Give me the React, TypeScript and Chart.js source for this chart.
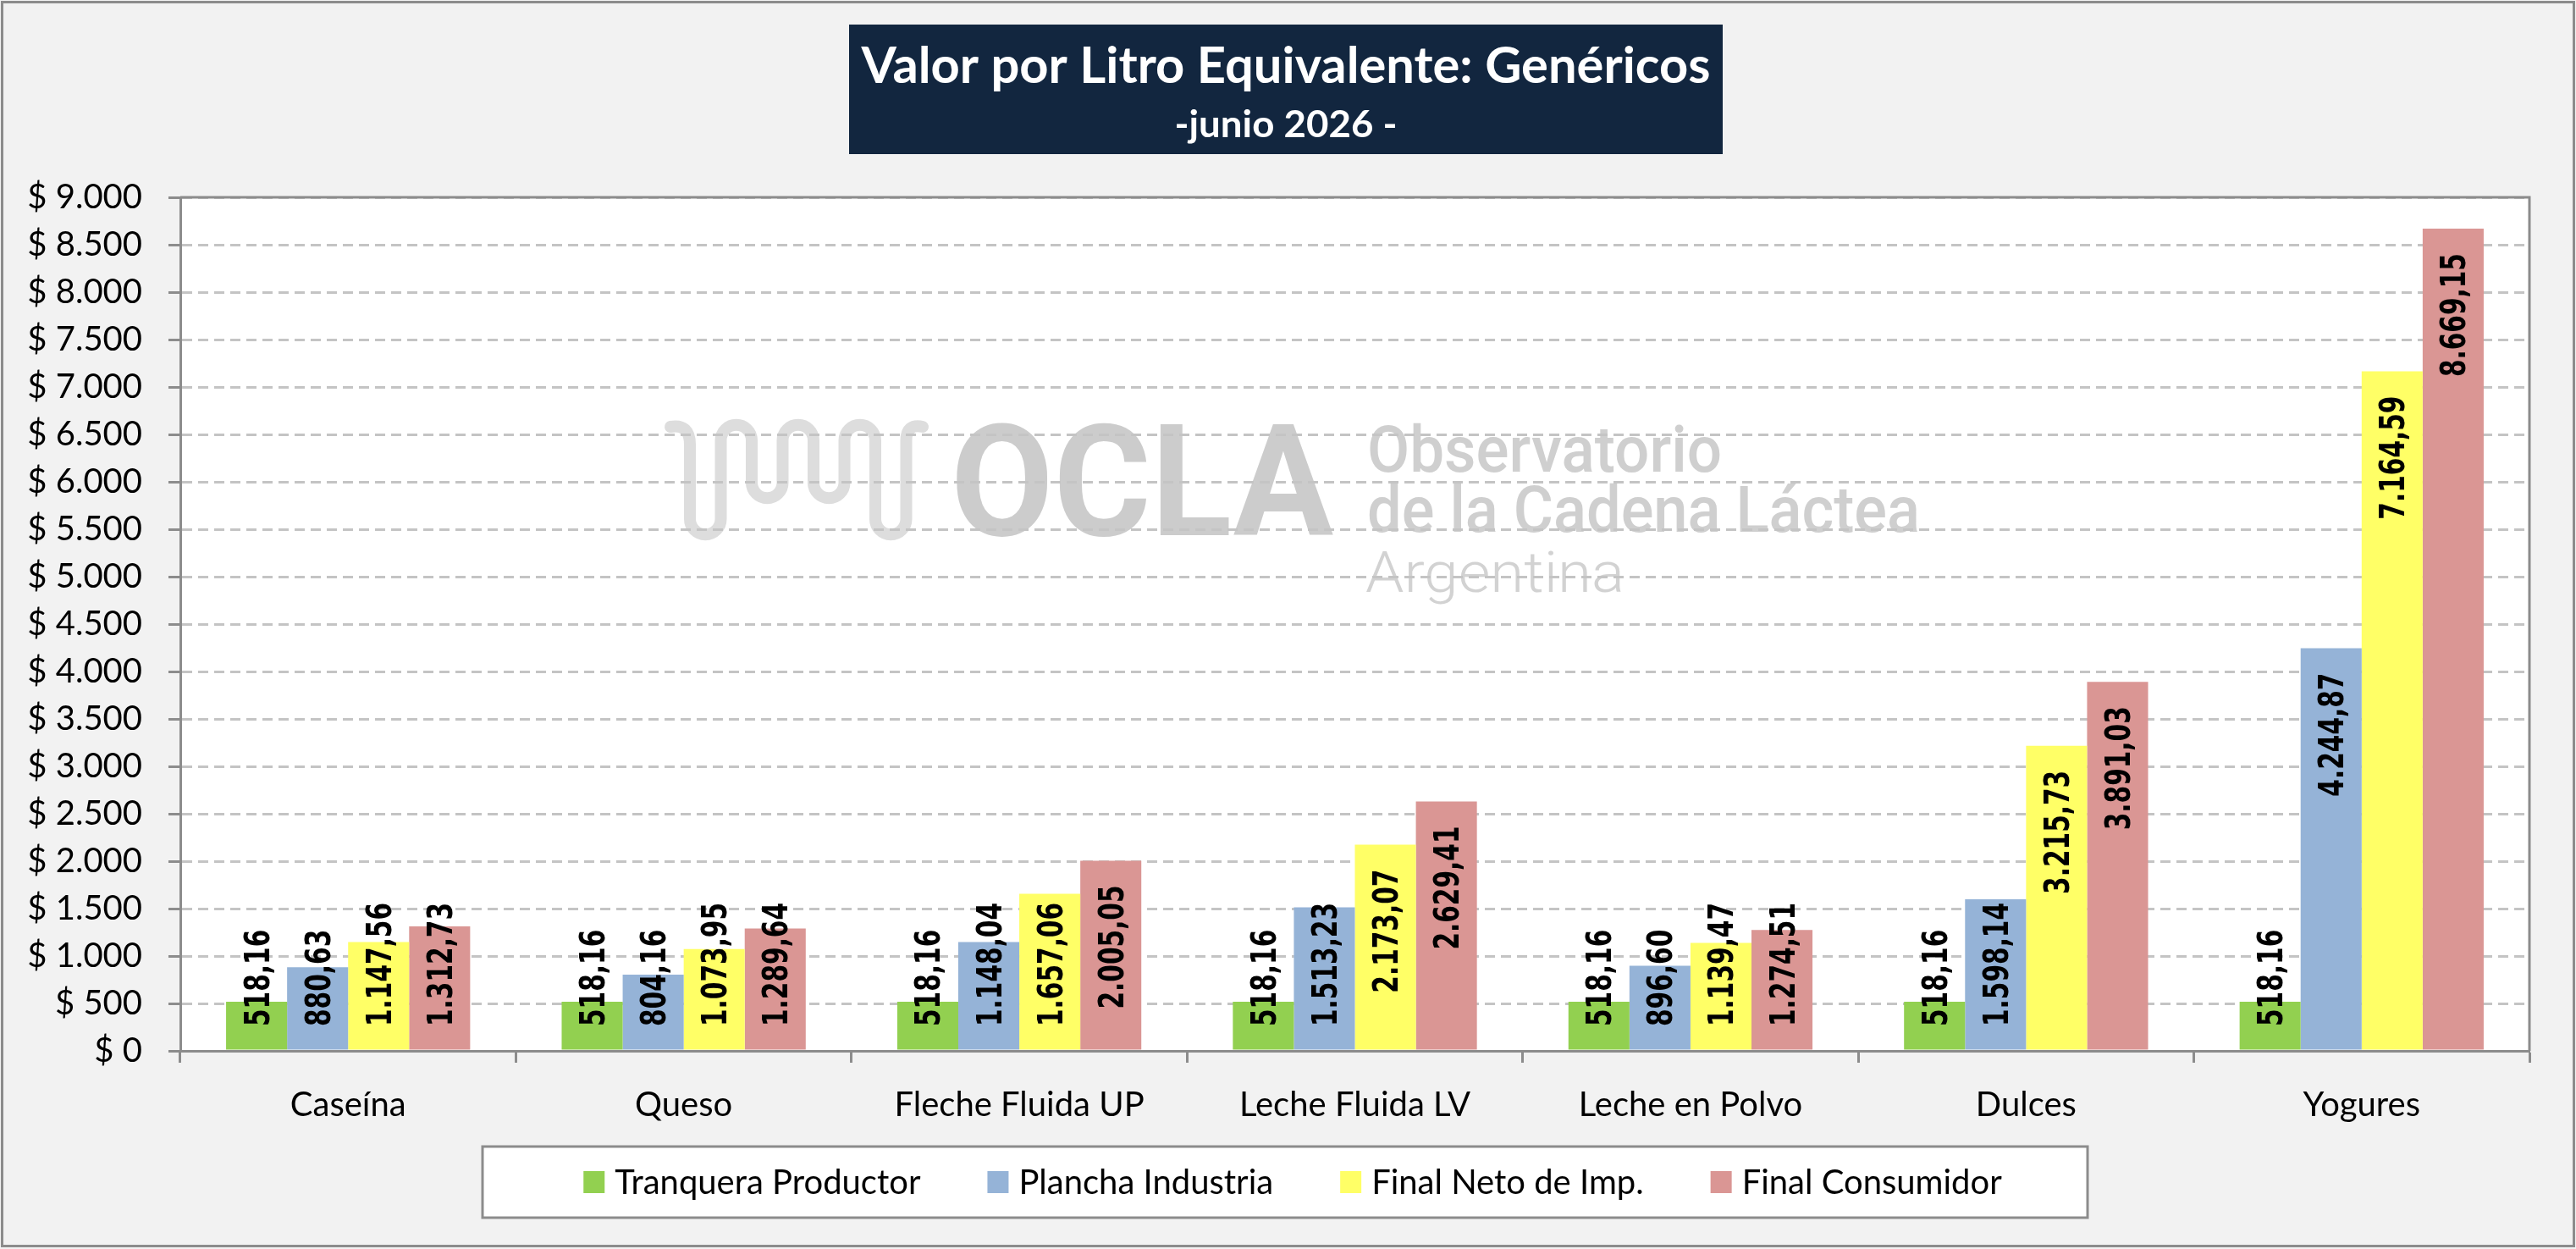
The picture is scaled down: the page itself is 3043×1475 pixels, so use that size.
import { useEffect, useRef } from "react";
import { Chart, registerables } from "chart.js";

Chart.register(...registerables);

const CATEGORIES = [
  "Caseína",
  "Queso",
  "Fleche Fluida UP",
  "Leche Fluida LV",
  "Leche en Polvo",
  "Dulces",
  "Yogures",
];
const SERIES_NAMES = ["Tranquera Productor", "Plancha Industria", "Final Neto de Imp.", "Final Consumidor"];
const TRANQUERA = [518.16, 518.16, 518.16, 518.16, 518.16, 518.16, 518.16];
const PLANCHA = [880.63, 804.16, 1148.04, 1513.23, 896.6, 1598.14, 4244.87];
const NETO = [1147.56, 1073.95, 1657.06, 2173.07, 1139.47, 3215.73, 7164.59];
const CONSUMIDOR = [1312.73, 1289.64, 2005.05, 2629.41, 1274.51, 3891.03, 8669.15];
const SERIES_COLORS = ["#92d050", "#95b3d7", "#ffff66", "#da9694"];

const Y_MIN = 0;
const Y_MAX = 9000;
const Y_STEP = 500;

const TITLE = "Valor por Litro Equivalente: Genéricos";
const SUBTITLE = "-junio 2026 -";

const W = 3043;
const H = 1475;
const AXIS = "#8c8c8c";
const GRID = "#c4c4c4";
const FONT = "Lato";

// 1234.5 -> "1.234,50"
function fmt(v: number, decimals: number) {
  const [int, dec] = v.toFixed(decimals).split(".");
  const dotted = int.replace(/\B(?=(\d{3})+(?!\d))/g, ".");
  return dec ? `${dotted},${dec}` : dotted;
}

function fitText(
  ctx: CanvasRenderingContext2D,
  text: string,
  x: number,
  y: number,
  font: string,
  width: number,
  align: "left" | "center",
  color: string
) {
  ctx.save();
  ctx.font = font;
  const w = ctx.measureText(text).width;
  ctx.translate(x, y);
  ctx.scale(width / w, 1);
  ctx.textAlign = align;
  ctx.textBaseline = "alphabetic";
  ctx.fillStyle = color;
  ctx.fillText(text, 0, 0);
  ctx.restore();
}

function drawWatermark(ctx: CanvasRenderingContext2D) {
  ctx.save();
  ctx.strokeStyle = "#dddddd";
  ctx.lineWidth = 14;
  ctx.lineCap = "round";
  const cols = [815, 851.5, 888, 924.5, 961, 997.5, 1034, 1070.5];
  const r = 18.25;
  const top = 520;
  const longBottom = 613;
  const shortBottom = 570;
  ctx.beginPath();
  ctx.moveTo(792, 504);
  ctx.quadraticCurveTo(815, 500, 815, 525);
  const bottoms = [longBottom, shortBottom, shortBottom, longBottom];
  for (let k = 0; k < 4; k++) {
    const a = cols[k * 2];
    const b = cols[k * 2 + 1];
    ctx.lineTo(a, bottoms[k]);
    ctx.arc((a + b) / 2, bottoms[k], r, Math.PI, 0, true);
    ctx.lineTo(b, top);
    if (k < 3) {
      const c = cols[k * 2 + 2];
      ctx.arc((b + c) / 2, top, r, Math.PI, 0, false);
    }
  }
  ctx.quadraticCurveTo(1070.5, 500, 1090, 504);
  ctx.stroke();
  ctx.restore();

  fitText(ctx, "OCLA", 1123, 632, `bold 184px Roboto`, 452, "left", "#cccccc");
  fitText(ctx, "Observatorio", 1615, 557, `500 76px Roboto`, 419, "left", "#cfcfcf");
  fitText(ctx, "de la Cadena Láctea", 1615, 628, `500 76px Roboto`, 653, "left", "#cfcfcf");
  fitText(ctx, "Argentina", 1613, 699, `300 67px Roboto`, 306, "left", "#d2d2d2");
}

const backgroundPlugin = {
  id: "background",
  beforeDraw(chart: Chart) {
    const { ctx, chartArea } = chart;
    ctx.save();
    ctx.fillStyle = "#f2f2f2";
    ctx.fillRect(0, 0, W, H);
    ctx.strokeStyle = AXIS;
    ctx.lineWidth = 3;
    ctx.strokeRect(2.5, 2.5, W - 5, H - 6);
    ctx.fillStyle = "#ffffff";
    ctx.fillRect(chartArea.left, chartArea.top, chartArea.right - chartArea.left, chartArea.bottom - chartArea.top);
    drawWatermark(ctx);

    // title box
    ctx.fillStyle = "#12263f";
    ctx.fillRect(1003, 29, 1032, 153);
    ctx.restore();
    fitText(ctx, TITLE, 1519, 98, `bold 60px ${FONT}`, 1003, "center", "#ffffff");
    fitText(ctx, SUBTITLE, 1519, 162, `bold 44px ${FONT}`, 263, "center", "#ffffff");
  },
};

const LABEL_SQUEEZE = 0.74;
const LABEL_PAD = 29;

const overlayPlugin = {
  id: "overlay",
  afterDraw(chart: Chart) {
    const { ctx, chartArea } = chart;
    ctx.save();
    // plot frame top and right
    ctx.strokeStyle = AXIS;
    ctx.lineWidth = 3;
    ctx.beginPath();
    ctx.moveTo(chartArea.left, chartArea.top);
    ctx.lineTo(chartArea.right, chartArea.top);
    ctx.lineTo(chartArea.right, chartArea.bottom);
    ctx.stroke();

    // value labels, rotated: inside end, but never below the base
    ctx.font = `bold 40px "DejaVu Sans"`;
    ctx.fillStyle = "#000000";
    ctx.textAlign = "left";
    ctx.textBaseline = "alphabetic";
    const base = chart.scales.y.getPixelForValue(0);
    chart.data.datasets.forEach((ds, di) => {
      const meta = chart.getDatasetMeta(di);
      meta.data.forEach((bar: any, i) => {
        const text = fmt(ds.data[i] as number, 2);
        const len = ctx.measureText(text).width * LABEL_SQUEEZE;
        const start = Math.min(bar.y + LABEL_PAD + len, base - LABEL_PAD);
        ctx.save();
        ctx.translate(bar.x, start);
        ctx.rotate(-Math.PI / 2);
        ctx.scale(LABEL_SQUEEZE, 1);
        ctx.fillText(text, 0, 14.5);
        ctx.restore();
      });
    });

    // legend
    const boxX = 570;
    const boxY = 1354;
    ctx.fillStyle = "#ffffff";
    ctx.fillRect(boxX, boxY, 1896, 84);
    ctx.strokeStyle = AXIS;
    ctx.lineWidth = 3;
    ctx.strokeRect(boxX, boxY, 1896, 84);
    ctx.font = `40px ${FONT}`;
    const sw = 25;
    const gapText = 12;
    const gapItem = 79;
    const widths = chart.data.datasets.map((ds) => ctx.measureText(ds.label as string).width);
    const total = widths.reduce((a, w) => a + sw + gapText + w, 0) + gapItem * (widths.length - 1);
    let x = 1527 - total / 2;
    ctx.textBaseline = "middle";
    chart.data.datasets.forEach((ds, di) => {
      ctx.fillStyle = ds.backgroundColor as string;
      ctx.fillRect(x, 1383, sw, 26);
      ctx.fillStyle = "#000000";
      ctx.fillText(ds.label as string, x + sw + gapText, 1397);
      x += sw + gapText + widths[di] + gapItem;
    });
    ctx.restore();
  },
};

export default function App() {
  const canvasRef = useRef<HTMLCanvasElement>(null);

  useEffect(() => {
    if (!canvasRef.current) return;
    const series = [TRANQUERA, PLANCHA, NETO, CONSUMIDOR];
    const chart = new Chart(canvasRef.current, {
      type: "bar",
      data: {
        labels: CATEGORIES,
        datasets: series.map((values, i) => ({
          label: SERIES_NAMES[i],
          data: values,
          backgroundColor: SERIES_COLORS[i],
          borderWidth: 0,
          categoryPercentage: 4 / 5.5,
          barPercentage: 1,
        })),
      },
      options: {
        responsive: false,
        animation: false,
        devicePixelRatio: 1,
        layout: { padding: { top: 233, right: 55, left: 0, bottom: 0 } },
        plugins: {
          legend: { display: false },
          title: { display: false },
          tooltip: { enabled: false },
        },
        scales: {
          x: {
            z: 1,
            grid: {
              display: true,
              drawOnChartArea: false,
              drawTicks: true,
              tickLength: 14,
              tickColor: AXIS,
              tickWidth: 3,
              offset: true,
            },
            border: { color: AXIS, width: 3 },
            ticks: {
              font: { family: FONT, size: 40 },
              color: "#000000",
              padding: 26,
              maxRotation: 0,
              autoSkip: false,
            },
            afterFit: (s: any) => {
              s.height = H - 1241;
            },
          },
          y: {
            min: Y_MIN,
            max: Y_MAX,
            ticks: {
              stepSize: Y_STEP,
              font: { family: FONT, size: 40 },
              color: "#000000",
              padding: 31,
              callback: (v: any) => "$ " + fmt(Number(v), 0),
            },
            grid: {
              color: GRID,
              lineWidth: 3,
              tickLength: 14,
              tickColor: AXIS,
              tickWidth: 3,
              tickBorderDash: [],
            },
            border: { color: AXIS, width: 3, dash: [12, 7] },
            afterFit: (s: any) => {
              s.width = 213;
            },
          },
        },
      },
      plugins: [backgroundPlugin, overlayPlugin],
    });
    return () => chart.destroy();
  }, []);

  return (
    <div style={{ position: "absolute", left: 0, top: 0, width: W, height: H }}>
      <canvas ref={canvasRef} width={W} height={H} style={{ display: "block", width: W, height: H }} />
    </div>
  );
}
